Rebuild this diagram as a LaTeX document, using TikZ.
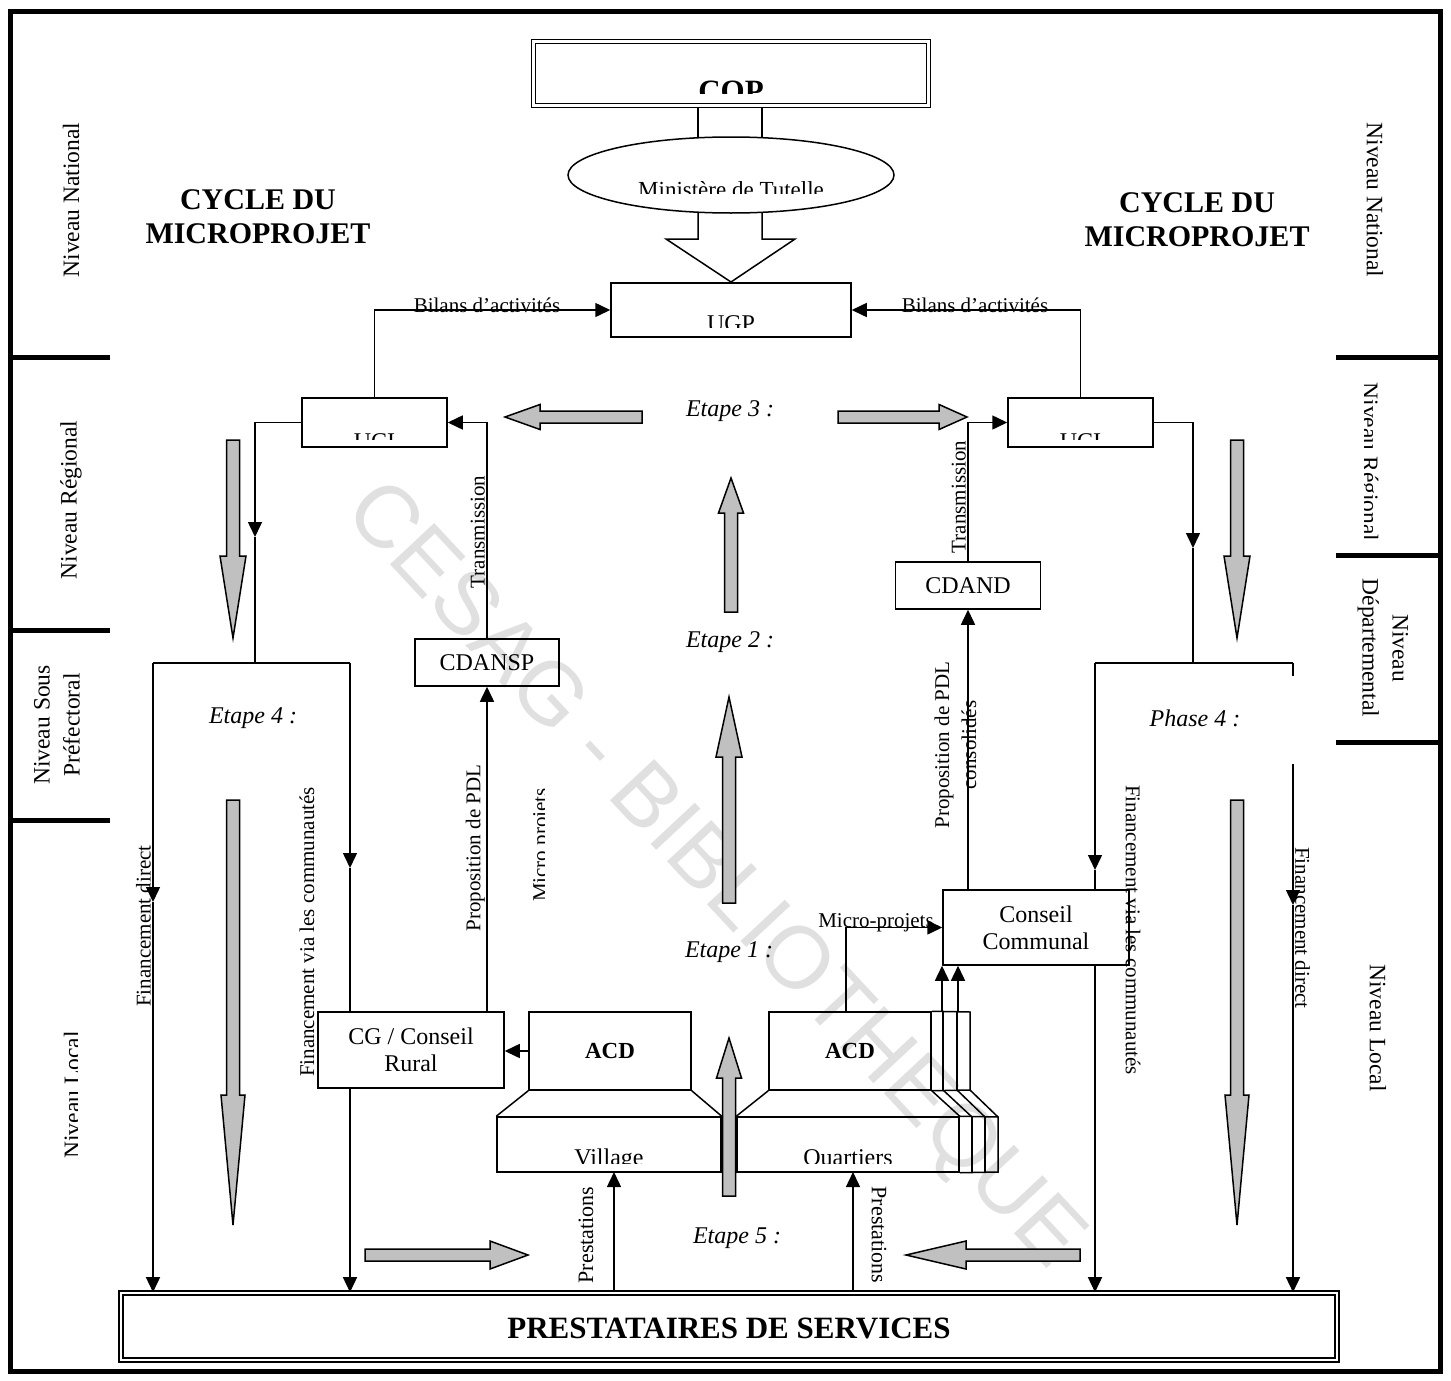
\documentclass[tikz,border=0pt]{standalone}
\usepackage{fontspec}
\setmainfont{Liberation Serif}
\newfontfamily\markfont{Liberation Sans}
\usetikzlibrary{arrows.meta,shapes.geometric}
\definecolor{blockgray}{RGB}{192,192,192}
\definecolor{markgray}{RGB}{224,224,224}

% vertical block arrow: centre x, tail y, head-base y, tip y, shaft half width, head half width
\newcommand{\VBlockArrow}[6]{%
  \draw[blockarrow] (#1-#5,#2) -- (#1-#5,#3) -- (#1-#6,#3) -- (#1,#4) -- (#1+#6,#3) -- (#1+#5,#3) -- (#1+#5,#2) -- cycle;}
% horizontal block arrow: centre y, tail x, head-base x, tip x, shaft half width, head half width
\newcommand{\HBlockArrow}[6]{%
  \draw[blockarrow] (#2,#1-#5) -- (#3,#1-#5) -- (#3,#1-#6) -- (#4,#1) -- (#3,#1+#6) -- (#3,#1+#5) -- (#2,#1+#5) -- cycle;}

\begin{document}
\begin{tikzpicture}[x=1pt,y=-1pt,
  every node/.style={inner sep=0pt},
  conn/.style={line width=1.5pt},
  flow/.style={conn,-{Triangle[length=15pt,width=14pt]}},
  box/.style={draw,line width=1.5pt},
  dbox/.style={draw,line width=1.6pt,double,double distance=2.4pt},
  blockarrow/.style={draw,line width=1.5pt,fill=blockgray,line join=miter},
  frameline/.style={line width=5pt},
  lbl/.style={font=\fontsize{21}{27}\selectfont},
  txt/.style={font=\fontsize{24}{27}\selectfont},
  etape/.style={font=\itshape\fontsize{24}{26}\selectfont},
  lvl/.style={font=\fontsize{23.5}{30}\selectfont,align=center},
  cyctitle/.style={font=\bfseries\fontsize{30}{34}\selectfont,align=center},
]
\useasboundingbox (0,0) rectangle (1451,1381);

% watermark
\node[rotate=-47,text=markgray,font=\markfont\fontsize{88}{90}\selectfont] (wm) at (712,877) {CESAG - BIBLIOTHEQUE};

% outer frame and level separators
\draw[frameline] (10,12) rectangle (1440,1371);
\draw[frameline] (10,357) -- (110,357);
\draw[frameline] (10,630) -- (110,630);
\draw[frameline] (10,820) -- (110,820);
\draw[frameline] (1336,357) -- (1440,357);
\draw[frameline] (1336,555) -- (1440,555);
\draw[frameline] (1336,742) -- (1440,742);

% level labels
\node[lvl,rotate=90] (lnat) at (71,200) {Niveau National};
\node[lvl,rotate=90] (lreg) at (71,500) {Niveau Régional};
\node[lvl,rotate=90] (lsp) at (57,725) {Niveau Sous\\Préfectoral};
\begin{scope}
  \clip (20,990) rectangle (77,1200);
  \node[lvl,rotate=90,anchor=base] (lloc) at (80,1095) {Niveau Local};
\end{scope}
\node[lvl,rotate=-90] (rnat) at (1375,200) {Niveau National};
\begin{scope}
  \clip (1364,365) rectangle (1430,550);
  \node[lvl,rotate=-90,anchor=base] (rreg) at (1362,462) {Niveau Régional};
\end{scope}
\node[lvl,rotate=-90] (rdep) at (1383,648) {Niveau\\Départemental};
\node[lvl,rotate=-90] (rloc) at (1378,1028) {Niveau Local};

% titles
\node[cyctitle] (cycl) at (258,217) {CYCLE DU\\MICROPROJET};
\node[cyctitle] (cycr) at (1197,220) {CYCLE DU\\MICROPROJET};

% COP, ministry and UGP
\node[dbox,minimum width=395pt,minimum height=64pt] (cop) at (731,73.5) {};
\begin{scope}
  \clip (540,45) rectangle (922,93);
  \node[font=\bfseries\fontsize{31}{31}\selectfont,anchor=base] (coptxt) at (731,101) {COP};
\end{scope}
\draw[conn] (698,107) -- (698,150);
\draw[conn] (762,107) -- (762,150);
\draw[conn,line join=miter,fill=white] (698,200) -- (698,239) -- (666,239) -- (731,282) -- (795,239) -- (762,239) -- (762,200);
\node[draw,ellipse,line width=1.5pt,fill=white,minimum width=326pt,minimum height=76pt] (mt) at (731,175) {};
\begin{scope}
  \clip (600,160) rectangle (860,193);
  \node[txt,font=\fontsize{23}{23}\selectfont,anchor=base] (mttxt) at (731,197) {Ministère de Tutelle};
\end{scope}
\node[box,minimum width=240pt,minimum height=54pt] (ugp) at (731,310) {};
\begin{scope}
  \clip (613,285) rectangle (849,327);
  \node[txt,anchor=base] (ugptxt) at (731,331) {UGP};
\end{scope}

% regional units
\node[box,minimum width=145pt,minimum height=49pt] (ucil) at (374.5,422.5) {};
\node[box,minimum width=145pt,minimum height=49pt] (ucir) at (1080.5,422.5) {};
\begin{scope}
  \clip (304,400) rectangle (445,439);
  \node[txt,anchor=base] (ucil txt) at (374.5,449) {UCI};
\end{scope}
\begin{scope}
  \clip (1010,400) rectangle (1151,439);
  \node[txt,anchor=base] (ucir txt) at (1080.5,449) {UCI};
\end{scope}

% activity reports
\draw[flow] (ucil.north) |- (ugp.west);
\draw[flow] (ucir.north) |- (ugp.east);
\node[lbl] (bill) at (487,305) {Bilans d’activités};
\node[lbl] (bilr) at (975,305) {Bilans d’activités};

% committees
\node[box,txt,minimum width=144pt,minimum height=47pt] (cdansp) at (487,662.5) {CDANSP};
\node[box,txt,minimum width=145pt,minimum height=47pt] (cdand) at (968,585.5) {CDAND};
\node[box,txt,align=center,minimum width=186pt,minimum height=76pt] (cg) at (411,1050) {CG / Conseil\\Rural};
\node[box,txt,align=center,minimum width=186pt,minimum height=75pt] (cc) at (1036,927.5) {Conseil\\Communal};

\draw[flow] (cdansp.north) |- (ucil.east);
\draw[flow] (cdand.north) |- (ucir.west);
\node[lbl,rotate=90,anchor=south] (trl) at (485,532) {Transmission};
\node[lbl,rotate=90,anchor=south] (trr) at (966,497) {Transmission};

\draw[flow] (cg.north -| cdansp.south) -- (cdansp.south);
\draw[flow] (cc.north -| cdand.south) -- (cdand.south);
\node[lbl,rotate=90,anchor=south] (ppl) at (485,848) {Proposition de PDL};
\node[lbl,rotate=90,align=center] (ppr) at (955.5,745) {Proposition de PDL\\consolidés};
\begin{scope}
  \clip (500,760) rectangle (544,940);
  \node[lbl,rotate=90,anchor=base] (mpl) at (547,845) {Micro projets};
\end{scope}

% ACD, villages and quarters
\node[box,font=\bfseries\fontsize{23}{23}\selectfont,minimum width=162pt,minimum height=78pt] (acdl) at (610,1051) {ACD};
\node[box,font=\bfseries\fontsize{23}{23}\selectfont,minimum width=162pt,minimum height=78pt] (acdr) at (850,1051) {ACD};
\node[box,minimum width=224pt,minimum height=55pt] (village) at (609,1144.5) {};
\node[box,minimum width=222pt,minimum height=55pt] (quart) at (848,1144.5) {};
\begin{scope}
  \clip (499,1119) rectangle (719,1163);
  \node[txt,anchor=base] (vtxt) at (609,1165) {Village};
\end{scope}
\begin{scope}
  \clip (739,1119) rectangle (957,1163);
  \node[txt,anchor=base] (qtxt) at (848,1165) {Quartiers};
\end{scope}
\draw[conn] (acdl.south west) -- (village.north west);
\draw[conn] (acdl.south east) -- (village.north east);
\draw[conn] (acdr.south west) -- (quart.north west);
\draw[conn] (acdr.south east) -- (quart.north east);
% stacked copies behind the quarter ACD
\draw[conn] (acdr.north east) -- (970,1012) -- (970,1090) -- (acdr.south east);
\draw[conn] (943,1012) -- (943,1090);
\draw[conn] (957,1012) -- (957,1090);
\draw[conn] (943,1090) -- (972,1117);
\draw[conn] (957,1090) -- (985,1117);
\draw[conn] (970,1090) -- (998,1117);
\draw[conn] (quart.north east) -- (998,1117) -- (998,1172) -- (quart.south east);
\draw[conn] (972,1117) -- (972,1172);
\draw[conn] (985,1117) -- (985,1172);

\coordinate (mp) at (846,1012);
\coordinate (s1) at (942,1012);
\coordinate (s2) at (958,1012);
\draw[flow] (mp) |- (cc.west);
\node[lbl] (mptxt) at (876,923) {Micro-projets};
\draw[flow] (s1) -- (cc.south -| s1);
\draw[flow] (s2) -- (cc.south -| s2);
\draw[flow] (acdl.west) -- (acdl.west -| cg.east);

% service providers
\node[dbox,minimum width=1216pt,minimum height=67pt] (prest) at (729,1326.5) {};
\node[font=\bfseries\fontsize{31}{31}\selectfont] (presttxt) at (729,1328) {PRESTATAIRES DE SERVICES};
\coordinate (pl) at (614,1172);
\coordinate (pr) at (853,1172);
\draw[flow] (prest.north -| pl) -- (pl);
\draw[flow] (prest.north -| pr) -- (pr);
\node[lbl,font=\fontsize{22}{22}\selectfont,rotate=90] (prl) at (586,1235) {Prestations};
\node[lbl,font=\fontsize{22}{22}\selectfont,rotate=-90] (prr) at (879,1235) {Prestations};

% financing, left branch
\coordinate (jl) at (255,663);
\coordinate (ml) at (255,537);
\coordinate (fdl) at (153,663);
\coordinate (fvl) at (350,663);
\coordinate (fdlm) at (153,902);
\coordinate (fvlm) at (350,868);
\draw[flow] (ucil.west) -| (ml);
\draw[conn] (ml) -- (jl);
\draw[conn] (fdl) -- (fvl);
\draw[flow] (fdl) -- (fdlm);
\draw[flow] (fdlm) -- (fdl |- prest.north);
\draw[flow] (fvl) -- (fvlm);
\draw[conn] (fvlm) -- (cg.north -| fvl);
\draw[flow] (cg.south -| fvl) -- (fvl |- prest.north);
\node[lbl,rotate=90,anchor=south] (fdltxt) at (151,926) {Financement direct};
\node[lbl,rotate=90] (fvltxt) at (307,932) {Financement via les communautés};

% financing, right branch
\coordinate (jr) at (1193,663);
\coordinate (mr) at (1193,548);
\coordinate (fvr) at (1095,663);
\coordinate (fdr) at (1293,663);
\coordinate (fvrm) at (1095,870);
\coordinate (fdrg) at (1293,676);
\coordinate (fdrh) at (1293,764);
\coordinate (fdrm) at (1293,905);
\draw[flow] (ucir.east) -| (mr);
\draw[conn] (mr) -- (jr);
\draw[conn] (fvr) -- (fdr);
\draw[flow] (fvr) -- (fvrm);
\draw[conn] (fvrm) -- (cc.north -| fvr);
\draw[flow] (cc.south -| fvr) -- (fvr |- prest.north);
\draw[conn] (fdr) -- (fdrg);
\draw[flow] (fdrh) -- (fdrm);
\draw[flow] (fdrm) -- (fdr |- prest.north);
\node[lbl,rotate=-90] (fvrtxt) at (1133,930) {Financement via les communautés};
\node[lbl,rotate=-90,anchor=south] (fdrtxt) at (1295,928) {Financement direct};

% grey stage arrows
\HBlockArrow{417}{642}{540}{505}{6}{12.5}
\HBlockArrow{417}{838}{939}{967}{6}{12.5}
\VBlockArrow{731}{612}{513}{478}{6.5}{12.5}
\VBlockArrow{729}{903}{757}{697}{6.5}{13}
\VBlockArrow{729}{1196}{1078}{1038}{6.5}{12.5}
\VBlockArrow{233}{440}{556}{638}{6.5}{13}
\VBlockArrow{1237}{440}{556}{638}{6.5}{13}
\VBlockArrow{233}{800}{1095}{1225}{6.5}{12}
\VBlockArrow{1237}{800}{1095}{1225}{6.5}{12}
\HBlockArrow{1255}{365}{490}{528}{6}{14}
\HBlockArrow{1255}{1080}{966}{906}{6}{14}

% stage labels
\node[etape] (e3) at (730,411) {Etape 3 :};
\node[etape] (e2) at (730,642) {Etape 2 :};
\node[etape] (e1) at (729,952) {Etape 1 :};
\node[etape] (e4) at (253,718) {Etape 4 :};
\node[etape] (p4) at (1195,718) {Phase 4 :};
\node[etape] (e5) at (737,1238) {Etape 5 :};
\end{tikzpicture}
\end{document}
